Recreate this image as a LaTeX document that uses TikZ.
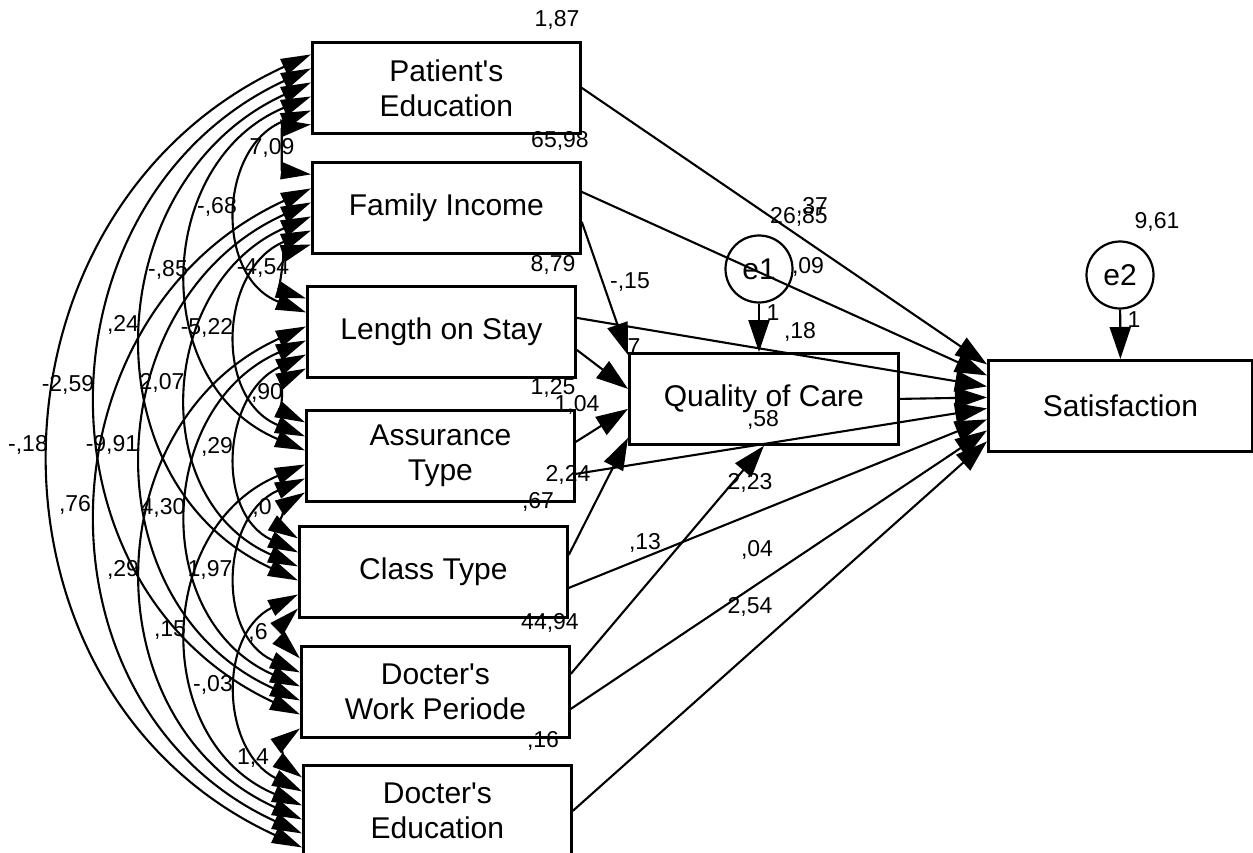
\documentclass[tikz,border=0pt]{standalone}
\usepackage{fontspec}
\setmainfont{Liberation Sans}
\usetikzlibrary{arrows.meta,calc}
\begin{document}
\begin{tikzpicture}[x=1pt,y=-1pt,
  box/.style={draw,line width=2.8pt,minimum width=268pt,minimum height=91pt,anchor=north west,align=center,font=\fontsize{30}{35}\selectfont,inner sep=0pt},
  err/.style={draw,circle,line width=2.2pt,minimum size=67pt,inner sep=0pt,font=\fontsize{30}{35}\selectfont},
  lab/.style={font=\fontsize{23}{25}\selectfont,inner sep=0pt},
  pth/.style={line width=2.1pt,-{Triangle[length=32pt,width=21pt]}},
  cov/.style={line width=2.1pt,{Triangle[length=30pt,width=17pt]}-{Triangle[length=30pt,width=17pt]}},
]
\useasboundingbox (0,0) rectangle (1253,853);
\clip (0,0) rectangle (1253,853);

% exogenous boxes
\node[box] (b1) at (311,41)  {Patient\textquotesingle s\\Education};
\node[box] (b2) at (311,161) {Family Income};
\node[box] (b3) at (306,285) {Length on Stay};
\node[box] (b4) at (305,409) {Assurance\\Type};
\node[box] (b5) at (298,525) {Class Type};
\node[box] (b6) at (300,645) {Docter\textquotesingle s\\Work Periode};
\node[box] (b7) at (302,764) {Docter\textquotesingle s\\Education};
% endogenous
\node[box,minimum width=269pt] (q) at (628,352) {Quality of Care};
\node[box,minimum width=264pt] (s) at (987,359) {Satisfaction};
\node[err] (e1) at (759,269) {e1};
\node[err] (e2) at (1120,275) {e2};

% covariances
\def\Lx{{311,311,306,305,298,300,302}}
\def\Ty{{41,161,285,409,525,645,764}}
\def\XL{{288,239,190,145,100,53}}
\foreach \i/\j in {1/2,1/3,1/4,1/5,1/6,1/7,2/3,2/4,2/5,2/6,2/7,3/4,3/5,3/6,3/7,4/5,4/6,4/7,5/6,5/7,6/7}{
  \pgfmathtruncatemacro\iA{\i-1}
  \pgfmathtruncatemacro\iB{\j-1}
  \pgfmathtruncatemacro\iS{\j-\i-1}
  \pgfmathtruncatemacro\kA{\i-1+7-\j}
  \pgfmathtruncatemacro\kB{\j-1-\i}
  \pgfmathsetmacro\tA{\Ty[\iA]}
  \pgfmathsetmacro\tB{\Ty[\iB]}
  \pgfmathsetmacro\xA{\Lx[\iA]}
  \pgfmathsetmacro\xB{\Lx[\iB]}
  \pgfmathsetmacro\xM{\XL[\iS]}
  \pgfmathsetmacro\fA{(13+\kA*13.6)/91}
  \pgfmathsetmacro\fB{(13+\kB*13.6)/91}
  \pgfmathsetmacro\yA{\tA+13+\kA*13.6}
  \pgfmathsetmacro\yB{\tB+13+\kB*13.6}
  \pgfmathsetmacro\cC{\yB-\yA}
  \pgfmathsetmacro\dD{(\xA+\xB)/2-\xM}
  \pgfmathsetmacro\tT{2*\dD/\cC}
  \pgfmathsetmacro\aL{2*atan(\tT)}
  \pgfmathsetmacro\lO{(4/3)*\tT/(2*sin(\aL))/0.3915}
  \pgfmathsetmacro\oU{270-\aL}
  \pgfmathsetmacro\iN{90+\aL}
  \draw[cov] ($(b\i.north west)!\fA!(b\i.south west)$) to[out=\oU,in=\iN,looseness=\lO] ($(b\j.north west)!\fB!(b\j.south west)$);
}

% paths to Quality of Care
\draw[pth] ([yshift=-14pt]b2.east) -- ([yshift=-3pt]q.north west);
\draw[pth] ([yshift=-18pt]b3.east) -- ([yshift=10pt]q.west);
\draw[pth] ([yshift=14pt]b4.east) -- ([yshift=-10pt]q.west);
\draw[pth] ([yshift=17pt]b5.east) -- ([yshift=8pt]q.south west);
\draw[pth] ([yshift=18pt]b6.east) -- (q.south);
\draw[pth] (e1.south) -- (e1.south |- q.north);
% paths to Satisfaction
\draw[pth] (b1.east) -- ([yshift=41.5pt]s.west);
\draw[pth] ([yshift=16pt]b2.east) -- ([yshift=30.5pt]s.west);
\draw[pth] ([yshift=14pt]b3.east) -- ([yshift=19.5pt]s.west);
\draw[pth] (q.east) -- ([yshift=8.5pt]s.west);
\draw[pth] ([yshift=-18pt]b4.east) -- ([yshift=-2.5pt]s.west);
\draw[pth] ([yshift=-16pt]b5.east) -- ([yshift=-13.5pt]s.west);
\draw[pth] ([yshift=-17pt]b6.east) -- ([yshift=-24.5pt]s.west);
\draw[pth] (b7.east) -- ([yshift=-35.5pt]s.west);
\draw[pth] (e2) -- (s.north);

% labels
\foreach \px/\py/\tx [count=\n] in {
  557/20/{1,87}, 560/141/{65,98}, 553/265/{8,79}, 553/388/{1,25}, 577/405/{1,04},
  568/475/{2,24}, 538/502/{,67}, 550/623/{44,94}, 543/741/{,16}, 630/282/{-,15},
  634/347/7, 799/217/{26,85}, 812/207/{,37}, 808/267/{,09}, 773/313/1, 800/332/{,18},
  763/420/{,58}, 750/483/{2,23}, 645/543/{,13}, 757/550/{,04}, 750/607/{2,54},
  1157/222/{9,61}, 1134/320/1,
  272/148/{7,09}, 217/207/{-,68}, 168/270/{-,85}, 263/268/{-4,54}, 123/325/{,24},
  207/328/{-5,22}, 68/385/{-2,59}, 162/383/{2,07}, 267/393/{,90}, 28/445/{-,18},
  112/445/{-9,91}, 217/447/{,29}, 75/505/{,76}, 163/508/{4,30}, 262/508/{,0},
  123/570/{,29}, 210/570/{1,97}, 170/630/{,15}, 258/633/{,6}, 213/685/{-,03},
  253/758/{1,4}}{
  \node[lab] (lab\n) at (\px,\py) {\tx};
}
\end{tikzpicture}
\end{document}
